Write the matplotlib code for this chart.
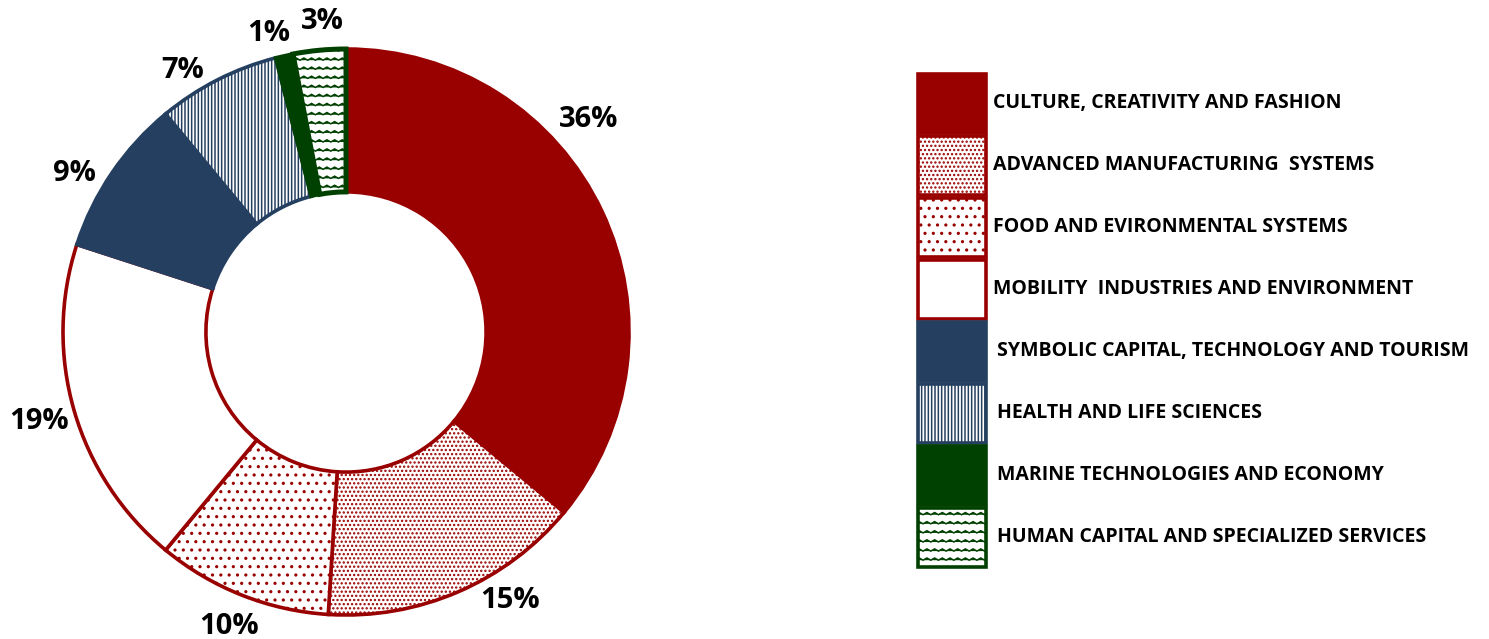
import matplotlib

matplotlib.use("Agg")
import matplotlib.pyplot as plt  # noqa: E402
import matplotlib.hatch as mhatch  # noqa: E402
from matplotlib.path import Path  # noqa: E402
from matplotlib.patches import Rectangle  # noqa: E402
import numpy as np  # noqa: E402

SECTORS = [
    "CULTURE, CREATIVITY AND FASHION",
    "ADVANCED MANUFACTURING  SYSTEMS",
    "FOOD AND EVIRONMENTAL SYSTEMS",
    "MOBILITY  INDUSTRIES AND ENVIRONMENT",
    "SYMBOLIC CAPITAL, TECHNOLOGY AND TOURISM",
    "HEALTH AND LIFE SCIENCES",
    "MARINE TECHNOLOGIES AND ECONOMY",
    "HUMAN CAPITAL AND SPECIALIZED SERVICES",
]
SHARES = [36, 15, 10, 19, 9, 7, 1, 3]

RED, NAVY, GREEN = "#990000", "#243F60", "#004000"
EDGES = [RED, RED, RED, RED, NAVY, NAVY, GREEN, GREEN]
FACES = [RED, "white", "white", "white", NAVY, "white", GREEN, "white"]
HATCHES = [None, "....", "..", None, None, "|||||", None, "z"]
# small nudges so labels sit roughly where the original ones did
LABEL_NUDGE_DEG = [16, 8, 0, 0, 4, 5, 2, -1]
LABEL_RADIUS = [1.14, 1.11, 1.12, 1.13, 1.11, 1.09, 1.09, 1.10]

FONT = ["Open Sans", "DejaVu Sans"]


class ZigZagHatch(mhatch.HatchPatternBase):
    """Wavy 'z' hatch, like the zigzag fill in Excel."""

    def __init__(self, hatch, density):
        self.num_rows = hatch.count("z") * 11
        self.teeth = 13
        self.num_vertices = self.num_rows * (2 * self.teeth + 1)

    def set_vertices_and_codes(self, vertices, codes):
        n_pts = 2 * self.teeth + 1
        xs = np.linspace(0, 1, n_pts)
        amp = 0.011
        offs = np.where(np.arange(n_pts) % 2 == 0, -amp, amp)
        for i in range(self.num_rows):
            y = (i + 0.5) / self.num_rows
            sl = slice(i * n_pts, (i + 1) * n_pts)
            vertices[sl, 0] = xs
            vertices[sl, 1] = y + offs
            codes[sl] = Path.LINETO
            codes[i * n_pts] = Path.MOVETO


mhatch._hatch_types.append(ZigZagHatch)
plt.rcParams["hatch.linewidth"] = 1.1

W, H = 1489, 639
fig = plt.figure(figsize=(W / 100, H / 100), dpi=100)

# donut
cx, cy, r = 346, 639 - 332, 283
ax = fig.add_axes([(cx - r) / W, (cy - r) / H, 2 * r / W, 2 * r / H])
wedges, _ = ax.pie(
    SHARES, startangle=90, counterclock=False, radius=1,
    wedgeprops=dict(width=0.505, linewidth=2.6),
)
for w, fc, ec, h in zip(wedges, FACES, EDGES, HATCHES):
    w.set_facecolor(fc)
    w.set_edgecolor(ec)
    if h:
        w.set_hatch(h)
wedges[-1].set_linewidth(3.6)
ax.set_xlim(-1, 1)
ax.set_ylim(-1, 1)
ax.set_aspect("equal")
ax.axis("off")

for w, val, nudge, rad in zip(wedges, SHARES, LABEL_NUDGE_DEG, LABEL_RADIUS):
    ang = np.deg2rad((w.theta1 + w.theta2) / 2 + nudge)
    ax.text(rad * np.cos(ang), rad * np.sin(ang), f"{val}%",
            ha="center", va="center", fontsize=21, fontweight="bold",
            family=FONT, clip_on=False)

# legend drawn as a stacked column of tall swatches
lax = fig.add_axes([0, 0, 1, 1])
lax.set_xlim(0, W)
lax.set_ylim(H, 0)
lax.axis("off")
box_h = 62
for i, (name, fc, ec, h) in enumerate(zip(SECTORS, FACES, EDGES, HATCHES)):
    y0 = 72 + i * box_h
    lax.add_patch(Rectangle((918, y0 + 1.5), 68, box_h - 3, facecolor=fc,
                            edgecolor=ec, linewidth=2.6, hatch=h))
    lax.text(993 if i < 4 else 997, y0 + box_h / 2, name, ha="left",
             va="center", fontsize=14, fontweight="bold", family=FONT)

fig.savefig("out.png", dpi=100)
